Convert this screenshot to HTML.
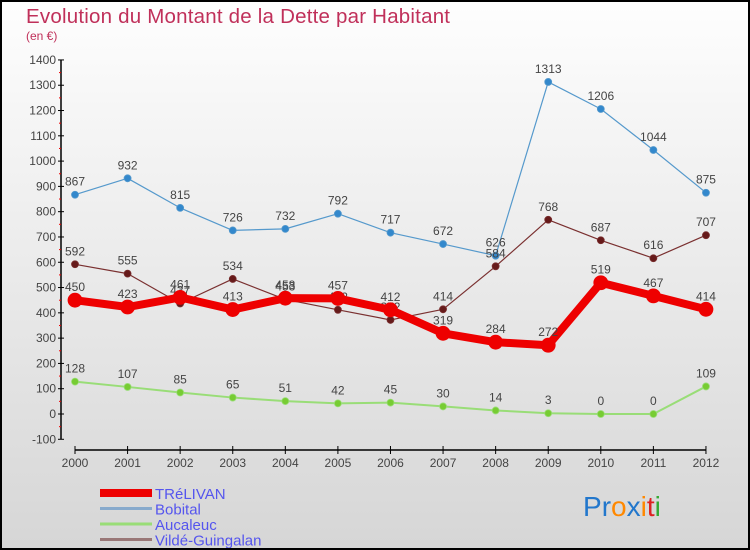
<!DOCTYPE html>
<html><head><meta charset="utf-8"><style>
body{margin:0;width:750px;height:550px;overflow:hidden;font-family:"Liberation Sans",sans-serif}
#wrap{position:absolute;left:0;top:0;width:746px;height:546px;border:2px solid #000;background:linear-gradient(#fefefe,#d6d6d6)}
</style></head><body>
<div id="wrap">
<svg id="chart" width="746" height="546" style="position:absolute;left:0;top:0"></svg>
</div>
<script>
const years=["2000","2001","2002","2003","2004","2005","2006","2007","2008","2009","2010","2011","2012"];
const trelivan=[450,423,461,413,458,457,412,319,284,272,519,467,414];
const bobital=[867,932,815,726,732,792,717,672,626,1313,1206,1044,875];
const aucaleuc=[128,107,85,65,51,42,45,30,14,3,0,0,109];
const vilde=[592,555,437,534,453,412,372,414,584,768,687,616,707];
const yTicks=[-100,0,100,200,300,400,500,600,700,800,900,1000,1100,1200,1300,1400];
const NS="http://www.w3.org/2000/svg";
const svg=document.getElementById('chart');
const ox=-2,oy=-2;
function X(i){return 75+i*52.58+ox;}
function Y(v){return 414-v*0.2529+oy;}
function el(t,a,p){const e=document.createElementNS(NS,t);for(const k in a)e.setAttribute(k,a[k]);(p||svg).appendChild(e);return e;}
let t=el('text',{x:26+ox,y:23+oy,'font-size':20.5,fill:'#c0305a',textLength:424});t.textContent="Evolution du Montant de la Dette par Habitant";

t=el('text',{x:26+ox,y:40+oy,'font-size':12,fill:'#c0305a'});t.textContent="(en €)";

let ax=el('line',{x1:61+ox,y1:Y(1400),x2:61+ox,y2:Y(-100),stroke:'#000','stroke-width':1.5});

yTicks.forEach((v,i)=>{
 el('line',{x1:58+ox,x2:64+ox,y1:Y(v),y2:Y(v),stroke:'#000'});
 if(i<yTicks.length-1) el('line',{x1:59+ox,x2:61+ox,y1:Y(v+50),y2:Y(v+50),stroke:'#e00'});
 const tx=el('text',{x:56+ox,y:Y(v)+4,'font-size':12,fill:'#444','text-anchor':'end'});tx.textContent=v;
 
});
ax=el('line',{x1:X(0),x2:X(12),y1:450+oy,y2:450+oy,stroke:'#000','stroke-width':1.5});

years.forEach((y,i)=>{
 el('line',{x1:X(i),x2:X(i),y1:446+oy,y2:454+oy,stroke:'#000'});
 const tx=el('text',{x:X(i),y:467+oy,'font-size':12,fill:'#444','text-anchor':'middle'});tx.textContent=y;
 
});
function series(data,color,w,r,dot,name){
 const g=el('g',{});
 el('polyline',{points:data.map((v,i)=>X(i)+','+Y(v)).join(' '),fill:'none',stroke:color,'stroke-width':w,'stroke-linejoin':'round'},g);
 data.forEach((v,i)=>{
  const c=el('circle',{cx:X(i),cy:Y(v),r:r,fill:dot,stroke:color,'stroke-width':0.8},g);
  
  const tx=el('text',{x:X(i),y:Y(v)-9,'font-size':12,fill:'#444','text-anchor':'middle'},g);tx.textContent=v;
 });
}
series(aucaleuc,'#99dd77',2,3.5,'#77cc33','series-aucaleuc');
series(bobital,'#5599cc',1.2,3.5,'#3388cc','series-bobital');
series(vilde,'#7a3030',1.2,3.5,'#661a1a','series-vilde-guingalan');
series(trelivan,'#ee0000',8,7,'#ee0000','series-trelivan');
const leg=[["TRéLIVAN","#ee0000",8],["Bobital","#88aacc",3],["Aucaleuc","#99dd77",3],["Vildé-Guingalan","#997777",3]];
leg.forEach((l,i)=>{
 const g=el('g',{});
 const yy=493+i*15.5+oy;
 el('line',{x1:100+ox,x2:152+ox,y1:yy,y2:yy,stroke:l[1],'stroke-width':l[2]},g);
 const tx=el('text',{x:155+ox,y:yy+6,'font-size':15,fill:'#5555ee'},g);tx.textContent=l[0];
});
const logo=el('text',{x:583+ox,y:516+oy,'font-size':28});

[["P","#2277cc"],["r","#2277cc"],["o","#ff8800"],["x","#2277cc"],["i","#ff8800"],["t","#dd2222"],["i","#33aa33"]].forEach(c=>{const s=el('tspan',{fill:c[1]},logo);s.textContent=c[0];});
</script>
</body></html>
